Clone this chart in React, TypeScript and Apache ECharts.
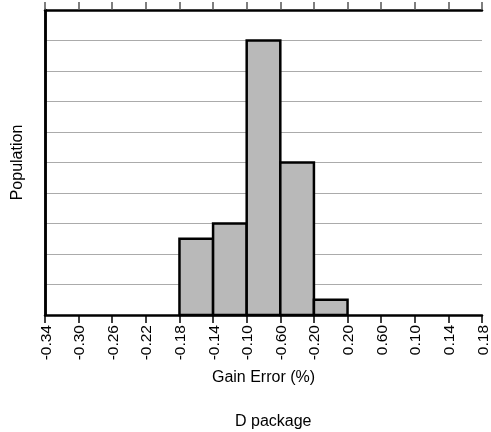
import React, { useEffect, useRef } from "react";
import * as echarts from "echarts";

const tickLabels = ["-0.34", "-0.30", "-0.26", "-0.22", "-0.18", "-0.14", "-0.10", "-0.60", "-0.20", "0.20", "0.60", "0.10", "0.14", "0.18"];
const binCounts = [0, 0, 0, 0, 2.5, 3, 9, 5, 0.5, 0, 0, 0, 0];
const xTitle = "Gain Error (%)";
const yTitle = "Population";
const footer = "D package";

const FONT = "'Liberation Sans', Arial, sans-serif";

export default function App() {
  const ref = useRef<HTMLDivElement>(null);
  useEffect(() => {
    if (!ref.current) return;
    const chart = echarts.init(ref.current, undefined, { renderer: "svg" });
    const bins = binCounts
      .map((c, i) => [i, i + 1, c])
      .filter((d) => d[2] > 0);
    const nBins = tickLabels.length - 1;
    chart.setOption({
      animation: false,
      grid: { left: 43, right: 9, top: 10, bottom: 117, containLabel: false },
      xAxis: [
        {
          type: "value",
          min: 0,
          max: nBins,
          interval: 1,
          position: "bottom",
          name: xTitle,
          nameLocation: "middle",
          nameGap: 45,
          nameTextStyle: { fontFamily: FONT, fontSize: 16, color: "#000" },
          axisLine: { show: true, onZero: false, lineStyle: { color: "#000", width: 2.5 } },
          axisTick: { show: true, length: 8, lineStyle: { color: "#000", width: 1.5 } },
          axisLabel: {
            show: true,
            rotate: 90,
            margin: 10,
            fontFamily: FONT,
            fontSize: 15.5,
            color: "#000",
            formatter: (v: number) => tickLabels[Math.round(v)] ?? "",
          },
          splitLine: { show: false },
        },
        {
          type: "value",
          min: 0,
          max: nBins,
          interval: 1,
          position: "top",
          axisLine: { show: true, onZero: false, lineStyle: { color: "#000", width: 2.5 } },
          axisTick: { show: true, length: 8, lineStyle: { color: "#555", width: 1.5 } },
          axisLabel: { show: false },
          splitLine: { show: false },
        },
      ],
      yAxis: [
        {
          type: "value",
          min: 0,
          max: 10,
          interval: 1,
          name: yTitle,
          nameLocation: "middle",
          nameGap: 21,
          nameTextStyle: { fontFamily: FONT, fontSize: 16, color: "#000" },
          axisLine: { show: true, lineStyle: { color: "#000", width: 2.5 } },
          axisTick: { show: false },
          axisLabel: { show: false },
          splitLine: { show: true, lineStyle: { color: "#ababab", width: 1.2 } },
        },
        {
          type: "value",
          min: 0,
          max: 10,
          interval: 1,
          position: "right",
          axisLine: { show: true, lineStyle: { color: "#000", width: 2.5 } },
          axisTick: { show: false },
          axisLabel: { show: false },
          splitLine: { show: false },
        },
      ],
      graphic: [
        {
          type: "text",
          left: 235,
          top: 412,
          style: { text: footer, fontFamily: FONT, fontSize: 16, fill: "#000" },
        },
      ],
      series: [
        {
          type: "custom",
          xAxisIndex: 0,
          yAxisIndex: 0,
          data: bins,
          renderItem: (params: any, api: any) => {
            const x0 = api.value(0);
            const x1 = api.value(1);
            const h = api.value(2);
            const p0 = api.coord([x0, h]);
            const p1 = api.coord([x1, 0]);
            return {
              type: "rect",
              shape: { x: p0[0], y: p0[1], width: p1[0] - p0[0], height: p1[1] - p0[1] },
              style: { fill: "#b9b9b9", stroke: "#000", lineWidth: 2.5 },
            };
          },
        },
      ],
    });
    return () => chart.dispose();
  }, []);
  return <div ref={ref} style={{ position: "fixed", left: 0, top: 0, width: 491, height: 432 }} />;
}
